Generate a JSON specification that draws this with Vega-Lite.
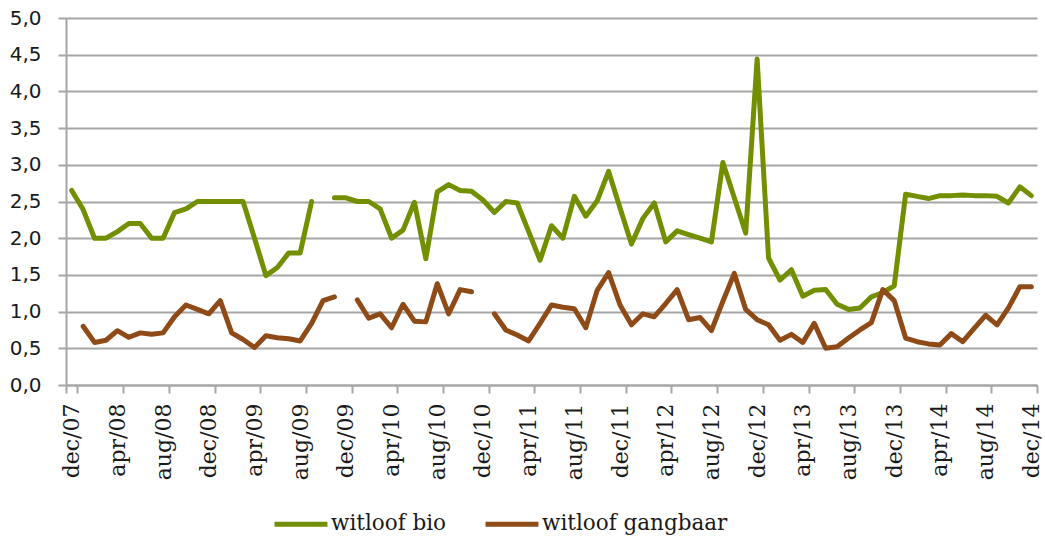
{
  "$schema": "https://vega.github.io/schema/vega-lite/v6.json",
  "width": 971,
  "height": 367,
  "autosize": "none",
  "padding": {"left": 66, "top": 18, "right": 8, "bottom": 155},
  "background": "white",
  "data": {"values": [
    {"maand": "dec/07", "witloof bio": 2.65, "witloof gangbaar": null},
    {"maand": "jan/08", "witloof bio": 2.39, "witloof gangbaar": 0.80},
    {"maand": "feb/08", "witloof bio": 2.0, "witloof gangbaar": 0.58},
    {"maand": "mrt/08", "witloof bio": 2.0, "witloof gangbaar": 0.61},
    {"maand": "apr/08", "witloof bio": 2.09, "witloof gangbaar": 0.74},
    {"maand": "mei/08", "witloof bio": 2.2, "witloof gangbaar": 0.65},
    {"maand": "jun/08", "witloof bio": 2.2, "witloof gangbaar": 0.71},
    {"maand": "jul/08", "witloof bio": 2.0, "witloof gangbaar": 0.69},
    {"maand": "aug/08", "witloof bio": 2.0, "witloof gangbaar": 0.71},
    {"maand": "sep/08", "witloof bio": 2.35, "witloof gangbaar": 0.93},
    {"maand": "okt/08", "witloof bio": 2.4, "witloof gangbaar": 1.09},
    {"maand": "nov/08", "witloof bio": 2.5, "witloof gangbaar": 1.03},
    {"maand": "dec/08", "witloof bio": 2.5, "witloof gangbaar": 0.97},
    {"maand": "jan/09", "witloof bio": 2.5, "witloof gangbaar": 1.15},
    {"maand": "feb/09", "witloof bio": 2.5, "witloof gangbaar": 0.71},
    {"maand": "mrt/09", "witloof bio": 2.5, "witloof gangbaar": 0.62},
    {"maand": "apr/09", "witloof bio": 2.0, "witloof gangbaar": 0.51},
    {"maand": "mei/09", "witloof bio": 1.49, "witloof gangbaar": 0.67},
    {"maand": "jun/09", "witloof bio": 1.6, "witloof gangbaar": 0.645},
    {"maand": "jul/09", "witloof bio": 1.8, "witloof gangbaar": 0.63},
    {"maand": "aug/09", "witloof bio": 1.8, "witloof gangbaar": 0.6},
    {"maand": "sep/09", "witloof bio": 2.5, "witloof gangbaar": 0.84},
    {"maand": "okt/09", "witloof bio": null, "witloof gangbaar": 1.15},
    {"maand": "nov/09", "witloof bio": 2.55, "witloof gangbaar": 1.2},
    {"maand": "dec/09", "witloof bio": 2.55, "witloof gangbaar": null},
    {"maand": "jan/10", "witloof bio": 2.5, "witloof gangbaar": 1.16},
    {"maand": "feb/10", "witloof bio": 2.5, "witloof gangbaar": 0.91},
    {"maand": "mrt/10", "witloof bio": 2.4, "witloof gangbaar": 0.97},
    {"maand": "apr/10", "witloof bio": 2.0, "witloof gangbaar": 0.78},
    {"maand": "mei/10", "witloof bio": 2.11, "witloof gangbaar": 1.10},
    {"maand": "jun/10", "witloof bio": 2.49, "witloof gangbaar": 0.87},
    {"maand": "jul/10", "witloof bio": 1.72, "witloof gangbaar": 0.86},
    {"maand": "aug/10", "witloof bio": 2.63, "witloof gangbaar": 1.38},
    {"maand": "sep/10", "witloof bio": 2.73, "witloof gangbaar": 0.97},
    {"maand": "okt/10", "witloof bio": 2.65, "witloof gangbaar": 1.30},
    {"maand": "nov/10", "witloof bio": 2.64, "witloof gangbaar": 1.27},
    {"maand": "dec/10", "witloof bio": 2.52, "witloof gangbaar": null},
    {"maand": "jan/11", "witloof bio": 2.35, "witloof gangbaar": 0.97},
    {"maand": "feb/11", "witloof bio": 2.5, "witloof gangbaar": 0.75},
    {"maand": "mrt/11", "witloof bio": 2.48, "witloof gangbaar": 0.68},
    {"maand": "apr/11", "witloof bio": 2.09, "witloof gangbaar": 0.60},
    {"maand": "mei/11", "witloof bio": 1.70, "witloof gangbaar": 0.84},
    {"maand": "jun/11", "witloof bio": 2.17, "witloof gangbaar": 1.09},
    {"maand": "jul/11", "witloof bio": 2.0, "witloof gangbaar": 1.06},
    {"maand": "aug/11", "witloof bio": 2.57, "witloof gangbaar": 1.04},
    {"maand": "sep/11", "witloof bio": 2.30, "witloof gangbaar": 0.78},
    {"maand": "okt/11", "witloof bio": 2.51, "witloof gangbaar": 1.29},
    {"maand": "nov/11", "witloof bio": 2.91, "witloof gangbaar": 1.53},
    {"maand": "dec/11", "witloof bio": 2.41, "witloof gangbaar": 1.09},
    {"maand": "jan/12", "witloof bio": 1.92, "witloof gangbaar": 0.82},
    {"maand": "feb/12", "witloof bio": 2.27, "witloof gangbaar": 0.97},
    {"maand": "mrt/12", "witloof bio": 2.48, "witloof gangbaar": 0.93},
    {"maand": "apr/12", "witloof bio": 1.95, "witloof gangbaar": 1.11},
    {"maand": "mei/12", "witloof bio": 2.10, "witloof gangbaar": 1.30},
    {"maand": "jun/12", "witloof bio": 2.05, "witloof gangbaar": 0.89},
    {"maand": "jul/12", "witloof bio": 2.0, "witloof gangbaar": 0.92},
    {"maand": "aug/12", "witloof bio": 1.95, "witloof gangbaar": 0.74},
    {"maand": "sep/12", "witloof bio": 3.03, "witloof gangbaar": 1.14},
    {"maand": "okt/12", "witloof bio": 2.55, "witloof gangbaar": 1.52},
    {"maand": "nov/12", "witloof bio": 2.07, "witloof gangbaar": 1.03},
    {"maand": "dec/12", "witloof bio": 4.44, "witloof gangbaar": 0.89},
    {"maand": "jan/13", "witloof bio": 1.73, "witloof gangbaar": 0.82},
    {"maand": "feb/13", "witloof bio": 1.43, "witloof gangbaar": 0.61},
    {"maand": "mrt/13", "witloof bio": 1.57, "witloof gangbaar": 0.69},
    {"maand": "apr/13", "witloof bio": 1.21, "witloof gangbaar": 0.58},
    {"maand": "mei/13", "witloof bio": 1.29, "witloof gangbaar": 0.84},
    {"maand": "jun/13", "witloof bio": 1.30, "witloof gangbaar": 0.50},
    {"maand": "jul/13", "witloof bio": 1.10, "witloof gangbaar": 0.52},
    {"maand": "aug/13", "witloof bio": 1.03, "witloof gangbaar": 0.64},
    {"maand": "sep/13", "witloof bio": 1.05, "witloof gangbaar": 0.75},
    {"maand": "okt/13", "witloof bio": 1.20, "witloof gangbaar": 0.85},
    {"maand": "nov/13", "witloof bio": 1.26, "witloof gangbaar": 1.30},
    {"maand": "dec/13", "witloof bio": 1.35, "witloof gangbaar": 1.15},
    {"maand": "jan/14", "witloof bio": 2.60, "witloof gangbaar": 0.64},
    {"maand": "feb/14", "witloof bio": 2.57, "witloof gangbaar": 0.59},
    {"maand": "mrt/14", "witloof bio": 2.54, "witloof gangbaar": 0.56},
    {"maand": "apr/14", "witloof bio": 2.58, "witloof gangbaar": 0.545},
    {"maand": "mei/14", "witloof bio": 2.58, "witloof gangbaar": 0.70},
    {"maand": "jun/14", "witloof bio": 2.59, "witloof gangbaar": 0.59},
    {"maand": "jul/14", "witloof bio": 2.58, "witloof gangbaar": 0.77},
    {"maand": "aug/14", "witloof bio": 2.58, "witloof gangbaar": 0.95},
    {"maand": "sep/14", "witloof bio": 2.57, "witloof gangbaar": 0.82},
    {"maand": "okt/14", "witloof bio": 2.48, "witloof gangbaar": 1.05},
    {"maand": "nov/14", "witloof bio": 2.70, "witloof gangbaar": 1.34},
    {"maand": "dec/14", "witloof bio": 2.58, "witloof gangbaar": 1.34}
  ]},
  "transform": [{"fold": ["witloof bio", "witloof gangbaar"], "as": ["serie", "prijs"]}],
  "mark": {"type": "line", "strokeWidth": 5, "strokeCap": "round", "strokeJoin": "round", "invalid": "break-paths-show-domains"},
  "encoding": {
    "x": {
      "field": "maand", "type": "ordinal", "sort": null, "bandPosition": 0.5,
      "scale": {"type": "band", "paddingInner": 0, "paddingOuter": 0},
      "axis": {
        "title": null,
        "values": ["dec/07","apr/08","aug/08","dec/08","apr/09","aug/09","dec/09","apr/10","aug/10","dec/10","apr/11","aug/11","dec/11","apr/12","aug/12","dec/12","apr/13","aug/13","dec/13","apr/14","aug/14","dec/14"],
        "labelAngle": -90, "tickBand": "extent", "grid": false,
        "labelFont": "DejaVu Serif", "labelFontSize": 22, "labelColor": "#1a1a1a",
        "tickColor": "#a6a6a6", "tickSize": 8, "tickWidth": 2,
        "domainColor": "#a6a6a6", "domainWidth": 2, "labelPadding": 10
      }
    },
    "y": {
      "field": "prijs", "type": "quantitative",
      "scale": {"domain": [0, 5]},
      "axis": {
        "title": null,
        "values": [0, 0.5, 1, 1.5, 2, 2.5, 3, 3.5, 4, 4.5, 5],
        "labelExpr": "replace(format(datum.value, '.1f'), '.', ',')",
        "gridColor": "#a6a6a6", "gridWidth": 2,
        "domainColor": "#a6a6a6", "domainWidth": 2,
        "tickColor": "#a6a6a6", "tickSize": 8, "tickWidth": 2,
        "labelFont": "DejaVu Sans", "labelFontSize": 20, "labelColor": "#1a1a1a", "labelPadding": 17
      }
    },
    "color": {
      "field": "serie", "type": "nominal",
      "scale": {"domain": ["witloof bio", "witloof gangbaar"], "range": ["#728f00", "#8e4a17"]},
      "legend": {
        "title": null, "orient": "none", "legendX": 206, "legendY": 477, "direction": "horizontal",
        "symbolType": "stroke", "symbolSize": 2800, "symbolStrokeWidth": 5,
        "labelFont": "DejaVu Serif", "labelFontSize": 21.5, "labelColor": "#1a1a1a", "labelLimit": 400,
        "labelOffset": 1, "columnPadding": 28
      }
    }
  },
  "config": {"view": {"stroke": null}}
}
